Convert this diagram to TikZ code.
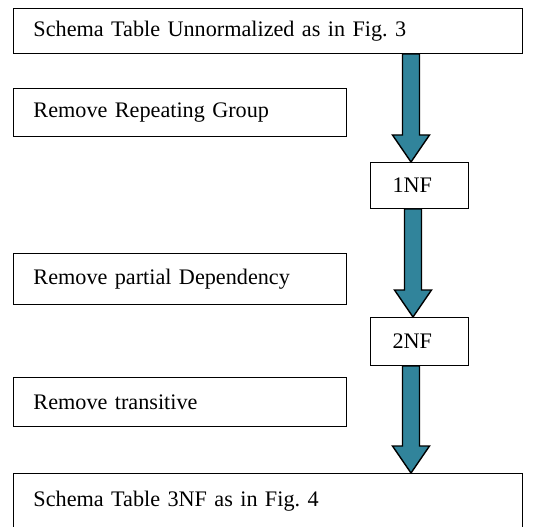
\documentclass[tikz,border=0pt]{standalone}
\usepackage{fontspec}
\setmainfont{Liberation Serif}
\frenchspacing
\usetikzlibrary{calc}
\definecolor{arrowteal}{RGB}{49,132,155}
\tikzset{
 stepbox/.style={draw, line width=1pt, anchor=north west, inner xsep=20pt, inner ysep=0pt,
   align=left, text width=#1-40pt, minimum width=#1, font=\fontsize{22.2}{26}\selectfont},
 fatarrow/.style={draw, line width=1.4pt, fill=arrowteal, line join=miter}
}
\newcommand{\fatarrow}[2]{%
 \path[fatarrow] ($(#1)+(-8.5,0)$) -- ($(#2)+(-8.5,-27)$) -- ($(#2)+(-18.5,-27)$) -- (#2)
   -- ($(#2)+(18.5,-27)$) -- ($(#2)+(8.5,-27)$) -- ($(#1)+(8.5,0)$) -- cycle;}

\begin{document}
\begin{tikzpicture}[x=1pt,y=-1pt]
 \useasboundingbox (0,0) rectangle (550,527);
 \clip (0,0) rectangle (550,527);
 \node[stepbox=509pt, minimum height=45pt] (S0) at (13,8) {Schema Table Unnormalized as in Fig. 3};
 \node[stepbox=333pt, minimum height=48pt] (R1) at (13,88) {Remove Repeating Group};
 \node[stepbox=98pt, minimum height=46pt] (NF1) at (370,162) {\hspace{2pt}1NF};
 \node[stepbox=333pt, minimum height=51pt] (R2) at (13,253) {Remove partial Dependency};
 \node[stepbox=98pt, minimum height=48pt] (NF2) at (370,317) {\hspace{2pt}2NF};
 \node[stepbox=333pt, minimum height=49pt] (R3) at (13,377) {Remove transitive};
 \node[stepbox=509pt, minimum height=56pt] (S3) at (13,473) {Schema Table 3NF as in Fig. 4};
 \coordinate (T1) at ($(NF1.north west)+(41,0)$);
 \coordinate (B1) at (T1 |- S0.south);
 \coordinate (T2) at ($(NF2.north west)+(43,0)$);
 \coordinate (B2) at (T2 |- NF1.south);
 \coordinate (T3) at ($(S3.north west)+(398,0)$);
 \coordinate (B3) at (T3 |- NF2.south);
 \fatarrow{B1}{T1}
 \fatarrow{B2}{T2}
 \fatarrow{B3}{T3}
\end{tikzpicture}
\end{document}
